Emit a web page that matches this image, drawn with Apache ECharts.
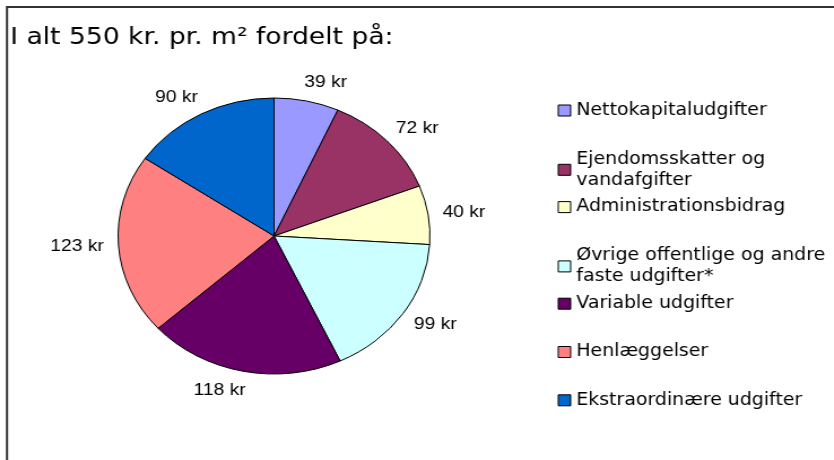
<!DOCTYPE html>
<html>
<head>
<meta charset="utf-8">
<script src="https://cdn.jsdelivr.net/npm/echarts@6/dist/echarts.min.js"></script>
<style>
  html, body { margin: 0; padding: 0; background: #fff; }
  #wrap { position: relative; width: 834px; height: 460px; overflow: hidden; }
  /* the original picture is stretched sideways (elliptical pie, wide text),
     so the chart is drawn narrower and widened with the same factor */
  #main { position: absolute; left: 0; top: 0; width: 738px; height: 460px;
          transform: scaleX(1.13); transform-origin: 0 0; }
</style>
</head>
<body>
<div id="wrap"><div id="main"></div></div>
<script>
const categories = [
  'Nettokapitaludgifter',
  'Ejendomsskatter og\nvandafgifter',
  'Administrationsbidrag',
  'Øvrige offentlige og andre\nfaste udgifter*',
  'Variable udgifter',
  'Henlæggelser',
  'Ekstraordinære udgifter'
];
const values = [39, 72, 40, 99, 118, 123, 90];
const colors = ['#9999FF', '#993366', '#FFFFCC', '#CCFFFF', '#660066', '#FF8080', '#0066CC'];
const subtitle = 'I alt 550 kr. pr. m² fordelt på:';
const unit = 'kr';

const pieData = categories.map((name, i) => ({ name, value: values[i] }));

// one legend per entry so every entry keeps its own row like the original
const legendFont = { fontFamily: 'DejaVu Sans', fontSize: 16.75, color: '#000', lineHeight: 21 };
const legends = categories.map((name, i) => {
  const twoLine = name.indexOf('\n') >= 0;
  return {
    orient: 'vertical',
    left: 488.5,
    top: 108 + i * 48.3 - (twoLine ? 10.5 : 13),
    itemWidth: 11,
    itemHeight: 11,
    itemGap: 0,
    selectedMode: false,
    icon: 'rect',
    textStyle: Object.assign({}, legendFont, twoLine ? { padding: [0, 0, -21, 0] } : {}),
    data: [{
      name,
      itemStyle: { color: colors[i], borderColor: '#000', borderWidth: 1 }
    }]
  };
});

const chart = echarts.init(document.getElementById('main'));
chart.setOption({
  animation: false,
  backgroundColor: '#fff',
  color: colors,
  title: {
    text: subtitle,
    left: 4,
    top: 21,
    textStyle: { fontFamily: 'DejaVu Sans', fontSize: 23.5, fontWeight: 'normal', color: '#000' }
  },
  graphic: [{
    type: 'rect',
    silent: true,
    shape: { x: 6.2, y: 7, width: 800, height: 520 },
    style: { fill: 'none', stroke: '#333', lineWidth: 2 }
  }],
  legend: legends,
  series: [{
    type: 'pie',
    center: [242.5, 236],
    radius: 138,
    startAngle: 90,
    clockwise: true,
    silent: true,
    avoidLabelOverlap: false,
    itemStyle: { borderColor: '#000', borderWidth: 1 },
    label: {
      show: true,
      position: 'outside',
      distanceToLabelLine: -6,
      formatter: (p) => p.value + ' ' + unit,
      fontFamily: 'Liberation Sans',
      fontSize: 17,
      color: '#000'
    },
    labelLine: { show: false, length: 19, length2: 0 },
    data: pieData
  }]
});
</script>
</body>
</html>
